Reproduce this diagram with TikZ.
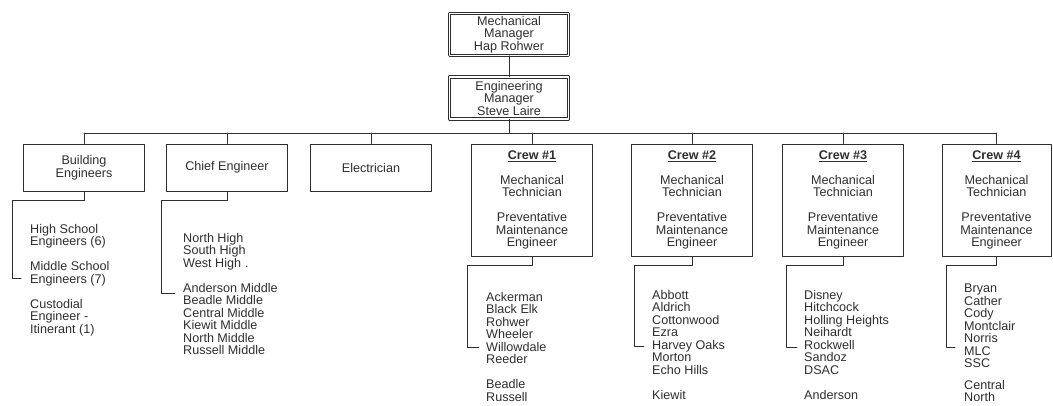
\documentclass[tikz,border=0pt]{standalone}
\usepackage{fontspec}
\setmainfont{Liberation Sans}
\definecolor{ink}{HTML}{2E2E2E}
\def\crewtext#1{\underline{\textbf{Crew \##1}}\\[12.5pt]Mechanical\\Technician\\[12.5pt]Preventative\\Maintenance\\Engineer}
\begin{document}
\begin{tikzpicture}[x=1pt, y=-1pt, line join=round, line cap=round, color=ink,
    font=\fontsize{12.6}{12.5}\selectfont,
    box/.style={draw, line width=1pt, inner sep=0pt, minimum width=121pt, align=center},
    headbox/.style={box, double, double distance=1.6pt, line width=0.8pt, minimum width=119pt, minimum height=42pt},
    unitbox/.style={box, minimum height=47pt},
    crewbox/.style={box, minimum height=112pt},
    list/.style={anchor=north west, inner sep=0pt, align=left},
    wire/.style={line width=0.9pt}]
        \def\drop{9}
        \useasboundingbox (0,0) rectangle (1053,405);
        \node[headbox] (mech) at (509,34.5) {Mechanical\\Manager\\Hap Rohwer};
        \node[headbox] (eng) at (509,98) {Engineering\\Manager\\Steve Laire};
        \coordinate (bus) at (509,133);
        \node[unitbox] (bldg) at (84,167.5) {Building\\Engineers};
        \node[unitbox] (chief) at (227,167.5) {Chief Engineer};
        \node[unitbox] (elec) at (371,167.5) {Electrician};
        \foreach \n/\x in {1/532,2/692,3/843}
            \node[crewbox] (crew\n) at (\x,200) {\crewtext{\n}};
        \node[crewbox, minimum width=109pt] (crew4) at (996.5,200) {\crewtext{4}};
        \node[list] (bldglist) at (30,224) {High School\\Engineers (6)\\[12.5pt]Middle School\\Engineers (7)\\[12.5pt]Custodial\\Engineer -\\Itinerant (1)};
        \node[list] (chieflist) at (183,233) {North High\\South High\\West High\hspace{4pt}.\\[12.5pt]Anderson Middle\\Beadle Middle\\Central Middle\\Kiewit Middle\\North Middle\\Russell Middle};
        \node[list] (crew1list) at (486,292) {Ackerman\\Black Elk\\Rohwer\\Wheeler\\Willowdale\\Reeder\\[12.5pt]Beadle\\Russell};
        \node[list] (crew2list) at (652,290) {Abbott\\Aldrich\\Cottonwood\\Ezra\\Harvey Oaks\\Morton\\Echo Hills\\[12.5pt]Kiewit};
        \node[list] (crew3list) at (804,290) {Disney\\Hitchcock\\Holling Heights\\Neihardt\\Rockwell\\Sandoz\\DSAC\\[12.5pt]Anderson};
        \node[list] (crew4list) at (964,284) {Bryan\\Cather\\Cody\\Montclair\\Norris\\MLC\\SSC\\[9pt]Central\\North};
        \draw[wire] (mech.south) -- (eng.north);
        \draw[wire] (eng.south) -- (bus);
        \draw[wire] (bldg.north |- bus) -- (crew4.north |- bus);
        \foreach \n in {bldg,chief,elec,crew1,crew2,crew3,crew4}
            \draw[wire] (\n.north |- bus) -- (\n.north);
        \foreach \n/\xl/\yb/\xr in {bldg/12/278/21, chief/161/293/175, crew1/467/347/479, crew2/634/346/644, crew3/786/347/797, crew4/946/347/955}
        {
            \coordinate (\n-tip) at (\xr,\yb);
            \draw[wire] (\n.south) -- ++(0,\drop) -| (\xl,\yb) -- (\n-tip);
        }
\end{tikzpicture}
\end{document}
